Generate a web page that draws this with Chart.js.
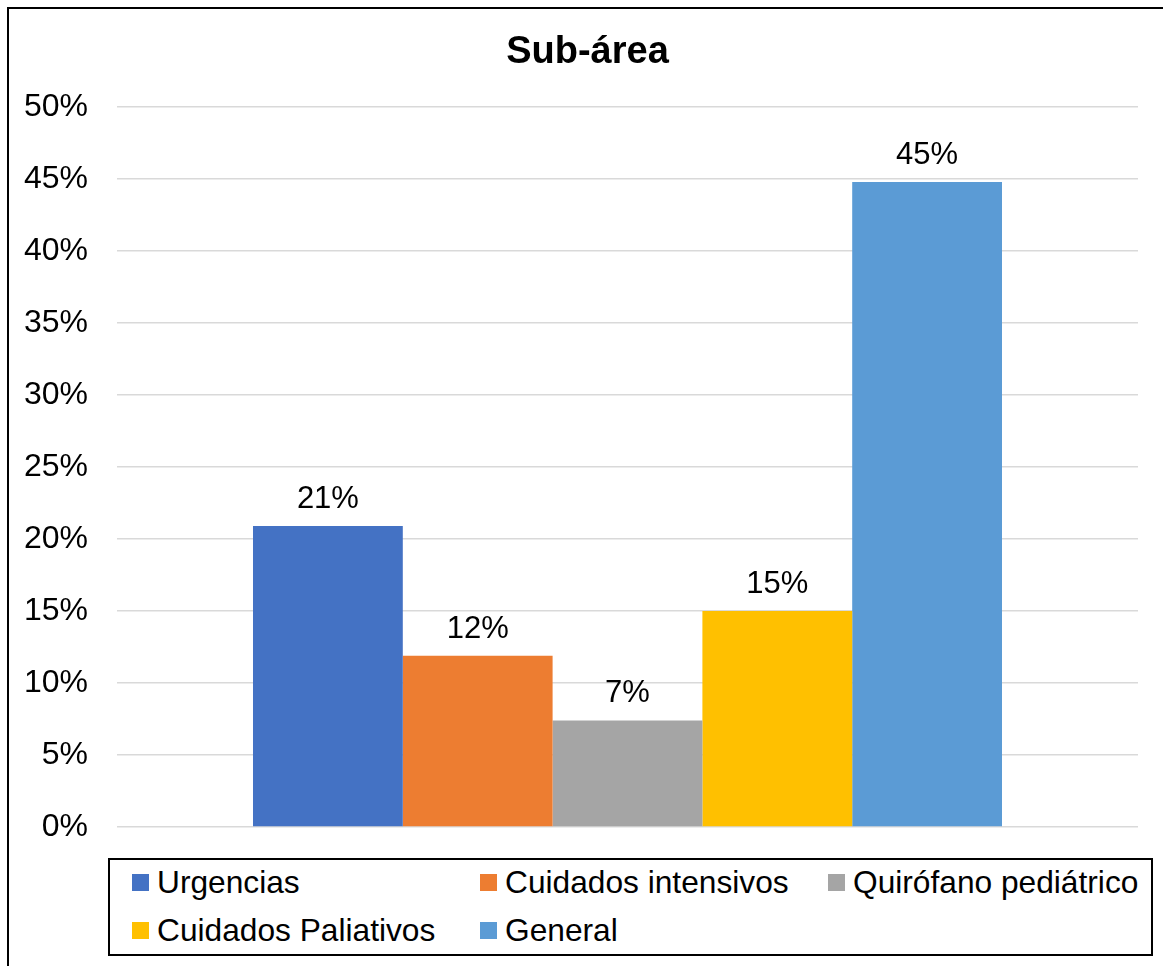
<!DOCTYPE html>
<html>
<head>
<meta charset="utf-8">
<script src="https://cdn.jsdelivr.net/npm/chart.js@4"></script>
<style>
  html, body { margin: 0; padding: 0; background: #fff; overflow: hidden; }
  body { width: 1163px; height: 966px; position: relative; font-family: "Liberation Sans", Arial, sans-serif; }
  #frame { position: absolute; left: 7px; top: 7px; width: 2000px; height: 2000px; border: 2px solid #000; }
  #wrap { position: absolute; left: 0; top: 0; width: 1163px; height: 966px; }
  #legend { position: absolute; left: 108px; top: 858px; width: 1041px; height: 94px; border: 2px solid #000; background: #fff; }
  .li { position: absolute; height: 40px; display: flex; align-items: center; font-size: 31.7px; color: #000; white-space: nowrap; }
  .sw { width: 17px; height: 17px; margin-right: 8px; flex: none; }
</style>
</head>
<body>
<div id="frame"></div>
<div id="wrap"><canvas id="c" width="1163" height="966"></canvas></div>
<div id="legend"></div>
<script>
const title = 'Sub-área';
const categories = ['Sub-área'];
const seriesNames = ['Urgencias', 'Cuidados intensivos', 'Quirófano pediátrico', 'Cuidados Paliativos', 'General'];
const seriesValues = [0.209, 0.119, 0.074, 0.150, 0.448];
const seriesColors = ['#4472C4', '#ED7D31', '#A5A5A5', '#FFC000', '#5B9BD5'];
const yTicks = [0, 0.05, 0.10, 0.15, 0.20, 0.25, 0.30, 0.35, 0.40, 0.45, 0.50];

Chart.defaults.font.family = '"Liberation Sans", Arial, sans-serif';
Chart.defaults.color = '#000';

const fmt = v => Math.round(v * 100) + '%';

const dataLabels = {
  id: 'dataLabels',
  afterDatasetsDraw(chart) {
    const ctx = chart.ctx;
    ctx.save();
    ctx.font = '31px "Liberation Sans", Arial, sans-serif';
    ctx.fillStyle = '#000';
    ctx.textAlign = 'center';
    ctx.textBaseline = 'alphabetic';
    chart.data.datasets.forEach((ds, i) => {
      const meta = chart.getDatasetMeta(i);
      meta.data.forEach((bar, j) => {
        ctx.fillText(fmt(ds.data[j]), bar.x, bar.y - 18);
      });
    });
    ctx.restore();
  }
};

const chartTitle = {
  id: 'chartTitle',
  afterDraw(chart) {
    const ctx = chart.ctx;
    ctx.save();
    ctx.font = 'bold 38px "Liberation Sans", Arial, sans-serif';
    ctx.fillStyle = '#000';
    ctx.textAlign = 'center';
    ctx.textBaseline = 'alphabetic';
    ctx.fillText(title, (chart.chartArea.right + 37) / 2, 63);
    ctx.restore();
  }
};

new Chart(document.getElementById('c'), {
  type: 'bar',
  data: {
    labels: categories,
    datasets: seriesNames.map((n, i) => ({
      label: n,
      data: [seriesValues[i]],
      backgroundColor: seriesColors[i],
      borderWidth: 0,
      categoryPercentage: 0.7336,
      barPercentage: 1
    }))
  },
  options: {
    responsive: false,
    animation: false,
    layout: { padding: { left: 0, right: 25, top: 107, bottom: 139 } },
    plugins: {
      legend: { display: false },
      tooltip: { enabled: false },
      title: { display: false }
    },
    scales: {
      x: {
        ticks: { display: false },
        grid: { display: false, drawTicks: false },
        border: { display: false },
        afterFit(s) { s.height = 0; }
      },
      y: {
        min: 0,
        max: 0.5,
        afterBuildTicks(s) { s.ticks = yTicks.map(v => ({ value: v })); },
        ticks: {
          callback: v => fmt(v),
          font: { size: 32 },
          color: '#000',
          padding: 29
        },
        grid: { color: '#D9D9D9', lineWidth: 1.5, drawTicks: false },
        border: { display: false },
        afterFit(s) { s.width = 117; }
      }
    }
  },
  plugins: [dataLabels, chartTitle]
});

const legend = document.getElementById('legend');
seriesNames.forEach((n, i) => {
  const col = i % 3, row = Math.floor(i / 3);
  const el = document.createElement('div');
  el.className = 'li';
  el.style.left = (22 + col * 348) + 'px';
  el.style.top = (2 + row * 48) + 'px';
  const sw = document.createElement('span');
  sw.className = 'sw';
  sw.style.background = seriesColors[i];
  const tx = document.createElement('span');
  tx.textContent = n;
  el.appendChild(sw); el.appendChild(tx);
  legend.appendChild(el);
});
</script>
</body>
</html>
